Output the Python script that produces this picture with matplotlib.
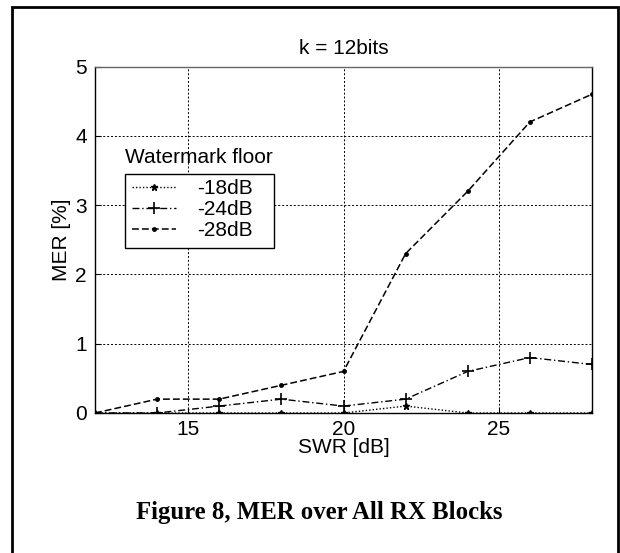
import matplotlib
matplotlib.use("Agg")
import matplotlib.pyplot as plt
from matplotlib.patches import Rectangle

swr = [12, 14, 16, 18, 20, 22, 24, 26, 28]
mer_18 = [0, 0, 0, 0, 0, 0.1, 0, 0, 0]
mer_24 = [0, 0, 0.1, 0.2, 0.1, 0.2, 0.6, 0.8, 0.7]
mer_28 = [0, 0.2, 0.2, 0.4, 0.6, 2.3, 3.2, 4.2, 4.6]
series_labels = ["-18dB", "-24dB", "-28dB"]
xticks = [15, 20, 25]
yticks = [0, 1, 2, 3, 4, 5]

plt.rcParams['font.family'] = ['Liberation Sans', 'DejaVu Sans']
FS = 15

W, H = 620, 553
fig = plt.figure(figsize=(6.2, 5.53), dpi=100)

# outer frame
fig.patches.append(Rectangle((12 / W, -0.05), (618 - 12) / W, 1 - 7 / H + 0.05,
                             transform=fig.transFigure, fill=False,
                             edgecolor='black', linewidth=2, zorder=0))

ax = fig.add_axes([95 / W, 1 - 413 / H, (592 - 95) / W, (413 - 66.5) / H])

l1, = ax.plot(swr, mer_18, color='black', linestyle=(0, (1, 1.5)), linewidth=1,
              marker='*', markersize=4.5, label=series_labels[0])
l2, = ax.plot(swr, mer_24, color='black', linestyle=(0, (5, 2, 1, 2)), linewidth=1,
              marker='+', markersize=9, markeredgewidth=1.2, label=series_labels[1])
l3, = ax.plot(swr, mer_28, color='black', linestyle=(0, (4.5, 2)), linewidth=1.1,
              marker='.', markersize=5, label=series_labels[2])

ax.set_xlim(12, 28)
ax.set_ylim(0, 5)
ax.set_xticks(xticks)
ax.set_yticks(yticks)
ax.grid(True, color='black', linestyle=(0, (2, 2)), linewidth=0.7)
ax.tick_params(direction='in', length=4, labelsize=FS, width=0.8, pad=5)
ax.tick_params(axis='y', pad=6)
for s in ax.spines.values():
    s.set_linewidth(1)
    s.set_color('black')
ax.spines['top'].set_color('#666666')

ax.set_title("k = 12bits", fontsize=FS, pad=9)
ax.set_xlabel("SWR [dB]", fontsize=FS, labelpad=-1)
ax.set_ylabel("MER [%]", fontsize=FS, labelpad=3)

# legend box drawn as its own frame
ax.add_patch(Rectangle((125 / W, 1 - 248 / H), (274 - 125) / W, (248 - 174) / H,
                       transform=fig.transFigure, facecolor='white',
                       edgecolor='black', linewidth=1, zorder=4))
leg = ax.legend(handles=[l1, l2, l3], loc='upper left',
                bbox_to_anchor=(128 / W, 1 - 175 / H), bbox_transform=fig.transFigure,
                fontsize=FS, frameon=False, handlelength=2.1, handletextpad=1.0,
                borderpad=0.2, labelspacing=0.1, borderaxespad=0)
leg.set_zorder(5)
fig.text(199 / W, 1 - 157 / H, "Watermark floor", fontsize=FS,
         ha='center', va='center')

fig.text(0.515, 1 - 513 / H, "Figure 8, MER over All RX Blocks",
         family=['Liberation Serif', 'DejaVu Serif'], fontweight='bold',
         fontsize=17.8, ha='center', va='center')

fig.savefig("out.png", dpi=100)
